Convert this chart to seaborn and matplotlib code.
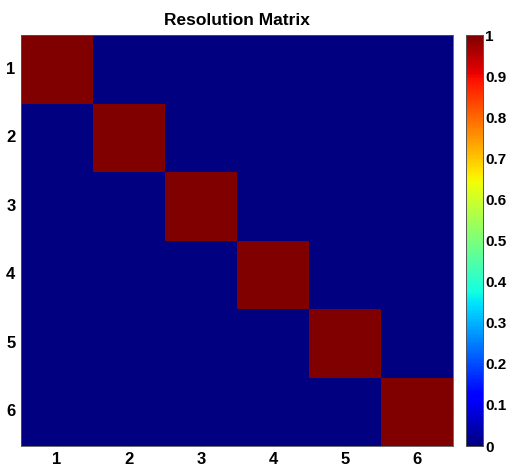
import numpy as np
import pandas as pd
import matplotlib
matplotlib.use("Agg")
import matplotlib.pyplot as plt
import seaborn as sns

# Model parameter indices and the resolution matrix values (identity: perfect resolution)
params = [1, 2, 3, 4, 5, 6]
row_1 = [1, 0, 0, 0, 0, 0]
row_2 = [0, 1, 0, 0, 0, 0]
row_3 = [0, 0, 1, 0, 0, 0]
row_4 = [0, 0, 0, 1, 0, 0]
row_5 = [0, 0, 0, 0, 1, 0]
row_6 = [0, 0, 0, 0, 0, 1]
cbar_ticks = [0, 0.1, 0.2, 0.3, 0.4, 0.5, 0.6, 0.7, 0.8, 0.9, 1]
cbar_labels = ["0", "0.1", "0.2", "0.3", "0.4", "0.5", "0.6", "0.7", "0.8", "0.9", "1"]

R = pd.DataFrame([row_1, row_2, row_3, row_4, row_5, row_6], index=params, columns=params)

sns.set_theme(style="white")
plt.rcParams["font.family"] = ["Liberation Sans", "DejaVu Sans"]
plt.rcParams["font.weight"] = "bold"
plt.rcParams["text.color"] = "black"
plt.rcParams["xtick.color"] = "black"
plt.rcParams["ytick.color"] = "black"

W, H = 507, 466
fig = plt.figure(figsize=(W / 100, H / 100), dpi=100)
ax = fig.add_axes([21 / W, 20 / H, 432 / W, 411 / H])
cax = fig.add_axes([466 / W, 20 / H, 17 / W, 411 / H])

sns.heatmap(R, ax=ax, cbar_ax=cax, cmap="jet", vmin=0, vmax=1,
            square=False, linewidths=0,
            cbar_kws={"ticks": cbar_ticks})

ax.set_title("Resolution Matrix", fontsize=12.5, fontweight="bold", pad=7, color="black")
ax.set_xticklabels([str(p) for p in params], fontsize=12, fontweight="bold", rotation=0)
ax.set_yticklabels([str(p) for p in params], fontsize=12, fontweight="bold", rotation=0)
ax.tick_params(axis="both", which="both", direction="in", length=3, width=0.5,
               color="#1a1a6a", pad=4, top=True, right=True, bottom=True, left=True,
               labeltop=False, labelright=False)
for s in ax.spines.values():
    s.set_visible(True)
    s.set_color("#555555")
    s.set_linewidth(0.6)

cax.set_yticks(cbar_ticks)
cax.set_yticklabels(cbar_labels, fontsize=11, fontweight="bold")
cax.tick_params(axis="y", direction="in", length=3, width=0.6, color="#333333", pad=1.5,
                left=True, right=True, labelleft=False, labelright=True)
for s in cax.spines.values():
    s.set_visible(True)
    s.set_color("#555555")
    s.set_linewidth(0.6)

fig.savefig("out.png", dpi=100)
